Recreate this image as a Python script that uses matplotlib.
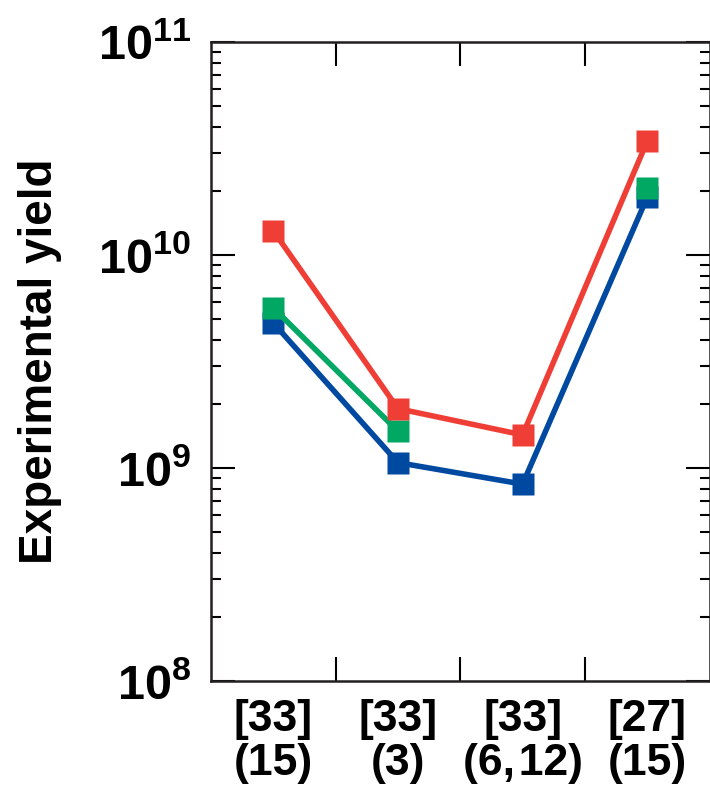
import numpy as np
import matplotlib
matplotlib.use("Agg")
import matplotlib.pyplot as plt
from matplotlib.ticker import LogLocator, NullFormatter

plt.rcParams['font.family'] = ['Liberation Sans', 'DejaVu Sans']
plt.rcParams['font.weight'] = 'bold'
plt.rcParams['mathtext.fontset'] = 'custom'
plt.rcParams['mathtext.rm'] = 'Liberation Sans:bold'
plt.rcParams['mathtext.bf'] = 'Liberation Sans:bold'

# data
categories = ["[33]\n(15)", "[33]\n(3)", "[33]\n(6,\u200a12)", "[27]\n(15)"]
blue_yield = [4.8e9, 1.06e9, 0.84e9, 1.87e10]
green_yield = [5.65e9, 1.49e9, np.nan, 2.06e10]
red_yield = [1.3e10, 1.9e9, 1.43e9, 3.43e10]

blue = "#0049a0"
green = "#00a864"
red = "#ef3e36"

fig = plt.figure(figsize=(7.1, 7.98), dpi=100)
ax = fig.add_axes([0.297, 0.1466, 0.7025, 0.8008])

x = np.arange(len(categories))
ax.plot(x, blue_yield, color=blue, lw=4, marker='s', ms=16, mec='none', zorder=3)
ax.plot(x, green_yield, color=green, lw=4, marker='s', ms=16, mec='none', zorder=4)
ax.plot(x, red_yield, color=red, lw=4, marker='s', ms=16, mec='none', zorder=5)

ax.set_yscale('log')
ax.set_ylim(1e8, 1e11)
ax.set_xlim(-0.5, 3.5)

ax.set_yticks([1e8, 1e9, 1e10, 1e11])
ax.set_yticklabels([r'$\mathbf{10^{8}}$', r'$\mathbf{10^{9}}$',
                    r'$\mathbf{10^{10}}$', r'$\mathbf{10^{11}}$'])
ax.yaxis.set_minor_locator(LogLocator(base=10, subs=np.arange(2, 10)))
ax.yaxis.set_minor_formatter(NullFormatter())

# category labels sit between the boundary ticks
ax.set_xticks([0.5, 1.5, 2.5])
ax.set_xticklabels([])
ax.set_xticks(x, minor=True)
ax.set_xticklabels(categories, minor=True, linespacing=1.1)

ax.tick_params(axis='y', which='major', direction='in', length=17, width=1.5,
               left=True, right=True, pad=14, labelsize=35)
ax.tick_params(axis='y', which='minor', direction='in', length=7, width=1.5,
               left=True, right=True)
ax.tick_params(axis='x', which='major', direction='in', length=17, width=1.5,
               top=True, bottom=True)
ax.tick_params(axis='x', which='minor', length=0, pad=13, labelsize=32)

for s in ax.spines.values():
    s.set_linewidth(1.8)
    s.set_color('#231f20')

fig.text(40 / 710, 0.5 + (798 / 2 - 361) / 798, "Experimental yield", rotation=90,
         fontsize=33, fontweight='bold', ha='center', va='center')

fig.savefig("out.png", dpi=100)
